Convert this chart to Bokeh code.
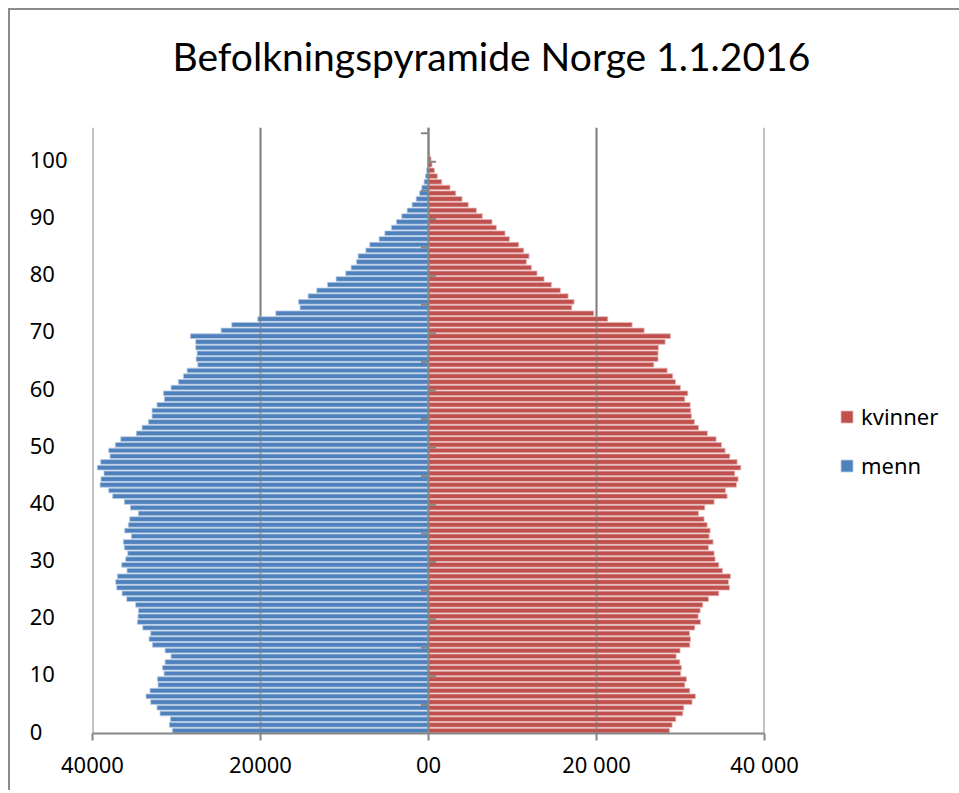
from bokeh.plotting import figure
from bokeh.models import FixedTicker, Legend, LegendItem, Span, Range1d, ColumnDataSource, Title
from bokeh.embed import file_html
from bokeh.resources import INLINE

# ---------------- data ----------------
ages = list(range(0, 106))
menn = [30490, 30850, 30730, 31960, 32320, 33070, 33630, 33150, 32200, 32280,
        31480, 31680, 31360, 30650, 31360, 32870, 33270, 33070, 34020, 34660,
        34580, 34540, 34860, 35930, 36480, 37120, 37240, 37040, 35890, 36520,
        36050, 35810, 36210, 36330, 35370, 36170, 35730, 35570, 34540, 35490,
        36210, 37600, 38070, 39100, 38990, 38630, 39420, 39030, 37910, 38070,
        37280, 36640, 34780, 34100, 33350, 32910, 32910, 32320, 31440, 31560,
        30650, 29780, 29180, 28740, 27470, 27670, 27550, 27710, 27710, 28350,
        24690, 23420, 20330, 18180, 15290, 15480, 14330, 13300, 12030, 11000,
        9850, 9210, 8580, 8380, 7460, 6990, 5880, 5200, 4410, 3810,
        3180, 2540, 1950, 1470, 1070, 790, 520, 350, 220, 130,
        80, 45, 25, 12, 6, 3]
kvinner = [28680, 29000, 29440, 30270, 30390, 31380, 31780, 31110, 30510, 30710,
           30030, 30110, 29920, 29480, 29950, 31110, 31190, 31070, 31700, 32380,
           32100, 32340, 32650, 33330, 34560, 35830, 35710, 35950, 35000, 34560,
           34120, 34000, 33330, 33880, 33410, 33530, 33170, 32810, 32140, 32890,
           34000, 35550, 35350, 36660, 36860, 36460, 37180, 36740, 35870, 35310,
           34880, 34240, 33210, 32140, 31660, 31300, 31220, 31150, 30510, 30870,
           29990, 29400, 29080, 28410, 26820, 27330, 27330, 27370, 28170, 28800,
           25670, 24240, 21340, 19670, 17050, 17330, 16620, 15700, 14630, 13760,
           12920, 12250, 11650, 11970, 11330, 10740, 9630, 9110, 8080, 7560,
           6410, 5700, 4740, 3990, 3240, 2560, 1570, 1050, 700, 420,
           300, 140, 70, 35, 15, 8]
x_ticks = [-40000, -20000, 0, 20000, 40000]
x_tick_labels = ["40000", "20000", "00", "20 000", "40 000"]
y_ticks = list(range(0, 101, 10))
y_tick_labels = ["0\u2007\u2007", "10\u2007", "20\u2007", "30\u2007", "40\u2007", "50\u2007",
                 "60\u2007", "70\u2007", "80\u2007", "90\u2007", "100"]
title_text = "Befolkningspyramide Norge 1.1.2016"
series_names = ["kvinner", "menn"]

BLUE = "#4F81BD"
RED = "#C0504D"
GRID = "#868686"
FONT = "Noto Sans"

src = ColumnDataSource(dict(
    age=ages,
    men_left=[-v for v in menn],
    zero=[0] * len(ages),
    women_right=kvinner,
))

p = figure(width=945, height=780, output_backend="svg", toolbar_location=None,
           x_range=Range1d(x_ticks[0], x_ticks[-1]),
           y_range=Range1d(ages[0] - 0.5, ages[-1] + 0.5),
           min_border_left=82, min_border_right=191, min_border_top=117,
           min_border_bottom=57)
p.frame_width = 672
p.frame_height = 606
p.styles = {"margin-left": "8px", "margin-top": "8px",
            "border-left": "2px solid #8c8c8c", "border-top": "2px solid #8c8c8c"}
p.outline_line_color = None
p.background_fill_color = "white"
p.border_fill_color = "white"

# spacer between title and plotting area
p.add_layout(Title(text=" ", text_font_size="1px", standoff=23), "above")

# title (outermost)
p.title.text = title_text
p.title.align = "left"
p.title.vertical_align = "top"
p.title.offset = 80
p.title.text_font = "Lato"
p.title.text_font_size = "39px"
p.title.text_font_style = "normal"
p.title.text_color = "black"
p.title.standoff = 42

# bars
rm = p.hbar(y="age", height=0.82, left="men_left", right="zero", source=src,
            fill_color=BLUE, line_color="#b9cde5", line_width=0.8)
rw = p.hbar(y="age", height=0.82, left="zero", right="women_right", source=src,
            fill_color=RED, line_color="#e6b9b8", line_width=0.8)

# grid
p.ygrid.grid_line_color = None
p.xgrid.ticker = FixedTicker(ticks=x_ticks)
p.xgrid.grid_line_color = GRID
p.xgrid.grid_line_width = 2
for xv in x_ticks:
    if xv in (x_ticks[0], x_ticks[-1]):
        p.add_layout(Span(location=xv, dimension="height", line_color=GRID,
                          line_width=2, level="underlay"))
    elif xv != 0:
        p.add_layout(Span(location=xv, dimension="height", line_color="#7a7a7a",
                          line_alpha=0.45, line_width=1.5, level="overlay"))
p.add_layout(Span(location=0, dimension="height", line_color=GRID,
                  line_width=2, level="overlay"))

# tick marks on the vertical category axis (at zero)
tick_len = 900
right_marks = [a + 9.5 for a in range(0, 100, 10)]
left_marks = [a + 4.5 for a in range(0, 101, 10)]
p.segment(x0=[0] * len(right_marks), x1=[tick_len] * len(right_marks),
          y0=right_marks, y1=right_marks, line_color=GRID, line_width=2)
p.segment(x0=[-tick_len] * len(left_marks), x1=[0] * len(left_marks),
          y0=left_marks, y1=left_marks, line_color=GRID, line_width=2)

# x axis
xa = p.xaxis[0]
xa.ticker = FixedTicker(ticks=x_ticks)
xa.major_label_overrides = {t: l for t, l in zip(x_ticks, x_tick_labels)}
xa.axis_line_color = GRID
xa.axis_line_width = 2
xa.major_tick_line_color = GRID
xa.major_tick_line_width = 2
xa.major_tick_out = 7
xa.major_tick_in = 0
xa.minor_tick_line_color = None
xa.major_label_text_font = FONT
xa.major_label_text_font_size = "22px"
xa.major_label_text_color = "black"
xa.major_label_standoff = 8

# y axis
ya = p.yaxis[0]
ya.ticker = FixedTicker(ticks=y_ticks)
ya.major_label_overrides = {t: l for t, l in zip(y_ticks, y_tick_labels)}
ya.axis_line_color = None
ya.major_tick_line_color = None
ya.minor_tick_line_color = None
ya.major_tick_out = 0
ya.major_tick_in = 0
ya.major_label_text_font = FONT
ya.major_label_text_font_size = "22px"
ya.major_label_text_color = "black"
ya.major_label_standoff = 25

# legend (to the right of the plotting area)
legend = Legend(items=[LegendItem(label=series_names[0], renderers=[rw]),
                       LegendItem(label=series_names[1], renderers=[rm])],
                location=(75, 253), padding=0, margin=0, spacing=19,
                glyph_width=15, glyph_height=15, label_height=25,
                label_standoff=7, border_line_color=None,
                background_fill_alpha=0,
                label_text_font=FONT, label_text_font_size="22px",
                label_text_color="black")
p.add_layout(legend, "right")

open("out.html", "w").write(file_html(p, INLINE))
